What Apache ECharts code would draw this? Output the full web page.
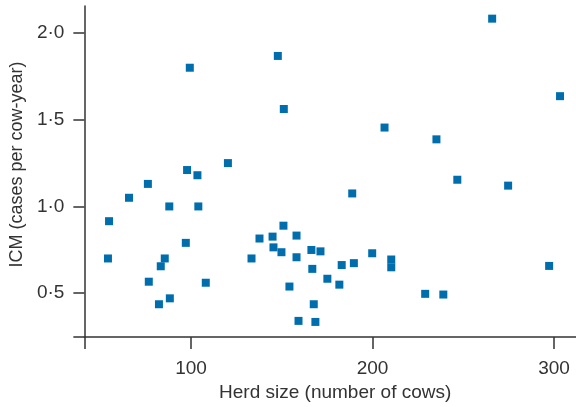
<!DOCTYPE html>
<html>
<head>
<meta charset="utf-8">
<script src="https://cdn.jsdelivr.net/npm/echarts@6/dist/echarts.min.js"></script>
<style>html,body{margin:0;padding:0;background:#fff}#c{width:576px;height:407px}</style>
</head>
<body>
<div id="c"></div>
<script>
// Herd size (number of cows)
var herdSize = [54.8, 54.2, 65.8, 76.2, 99.3, 97.8, 103.5, 88.0, 104.0, 97.1,
  85.5, 83.3, 76.7, 88.3, 82.3, 108.1, 120.3, 133.3, 137.7, 144.9,
  145.4, 149.8, 150.9, 158.1, 158.1, 154.2, 159.2, 166.3, 171.3, 166.8,
  167.6, 168.5, 175.1, 181.7, 183.0, 189.7, 188.8, 199.8, 210.3, 210.3,
  206.6, 147.8, 151.1, 229.0, 239.0, 235.2, 246.7, 265.9, 274.7, 297.3, 303.3];
// ICM (cases per cow-year)
var icm = [0.915, 0.70, 1.05, 1.13, 1.80, 1.21, 1.18, 1.00, 1.00, 0.79,
  0.70, 0.655, 0.566, 0.47, 0.436, 0.56, 1.25, 0.70, 0.815, 0.826,
  0.764, 0.736, 0.889, 0.832, 0.707, 0.538, 0.34, 0.749, 0.741, 0.64,
  0.436, 0.334, 0.583, 0.549, 0.662, 0.673, 1.075, 0.730, 0.694, 0.649,
  1.455, 1.868, 1.562, 0.496, 0.492, 1.387, 1.154, 2.083, 1.12, 0.657, 1.636];
var xTicks = [100, 200, 300];
var yTicks = [0.5, 1.0, 1.5, 2.0];
var xMin = 41.2, xMax = 312.1;
var yMin = 0.2465, yMax = 2.156;

var points = herdSize.map(function (x, i) { return [x, icm[i]]; });
var axisColor = '#333333';
var font = 'Liberation Sans, Arial, Helvetica, sans-serif';

var chart = echarts.init(document.getElementById('c'), null, {renderer: 'canvas'});
chart.setOption({
  animation: false,
  backgroundColor: '#ffffff',
  grid: {left: 83, right: 0, top: 6, bottom: 64, containLabel: false},
  xAxis: {
    type: 'value', min: xMin, max: xMax,
    splitLine: {show: false},
    axisLine: {show: true, lineStyle: {color: axisColor, width: 1.5}},
    axisTick: {show: true, length: 12, customValues: [xMin].concat(xTicks), lineStyle: {color: axisColor, width: 1.5}},
    axisLabel: {customValues: xTicks, margin: 22, color: '#333', fontSize: 19, fontFamily: font},
    name: 'Herd size (number of cows)', nameLocation: 'middle', nameGap: 45,
    nameTextStyle: {color: '#333', fontSize: 19, fontFamily: font, padding: [0, 0, 0, 10]}
  },
  yAxis: {
    type: 'value', min: yMin, max: yMax,
    splitLine: {show: false},
    axisLine: {show: true, lineStyle: {color: axisColor, width: 1.5}},
    axisTick: {show: true, length: 11, customValues: [yMin].concat(yTicks), lineStyle: {color: axisColor, width: 1.5}},
    axisLabel: {customValues: yTicks, margin: 20, color: '#333', fontSize: 19, fontFamily: font,
      formatter: function (v) { return v.toFixed(1).replace('.', '\u00b7'); }},
    name: 'ICM (cases per cow-year)', nameLocation: 'middle', nameGap: 56,
    nameTextStyle: {color: '#333', fontSize: 18, fontFamily: font, padding: [0, 0, 0, 14]}
  },
  series: [{
    type: 'scatter', data: points, symbol: 'rect', symbolSize: 8,
    itemStyle: {color: '#006ead', opacity: 1}
  }]
});
</script>
</body>
</html>
